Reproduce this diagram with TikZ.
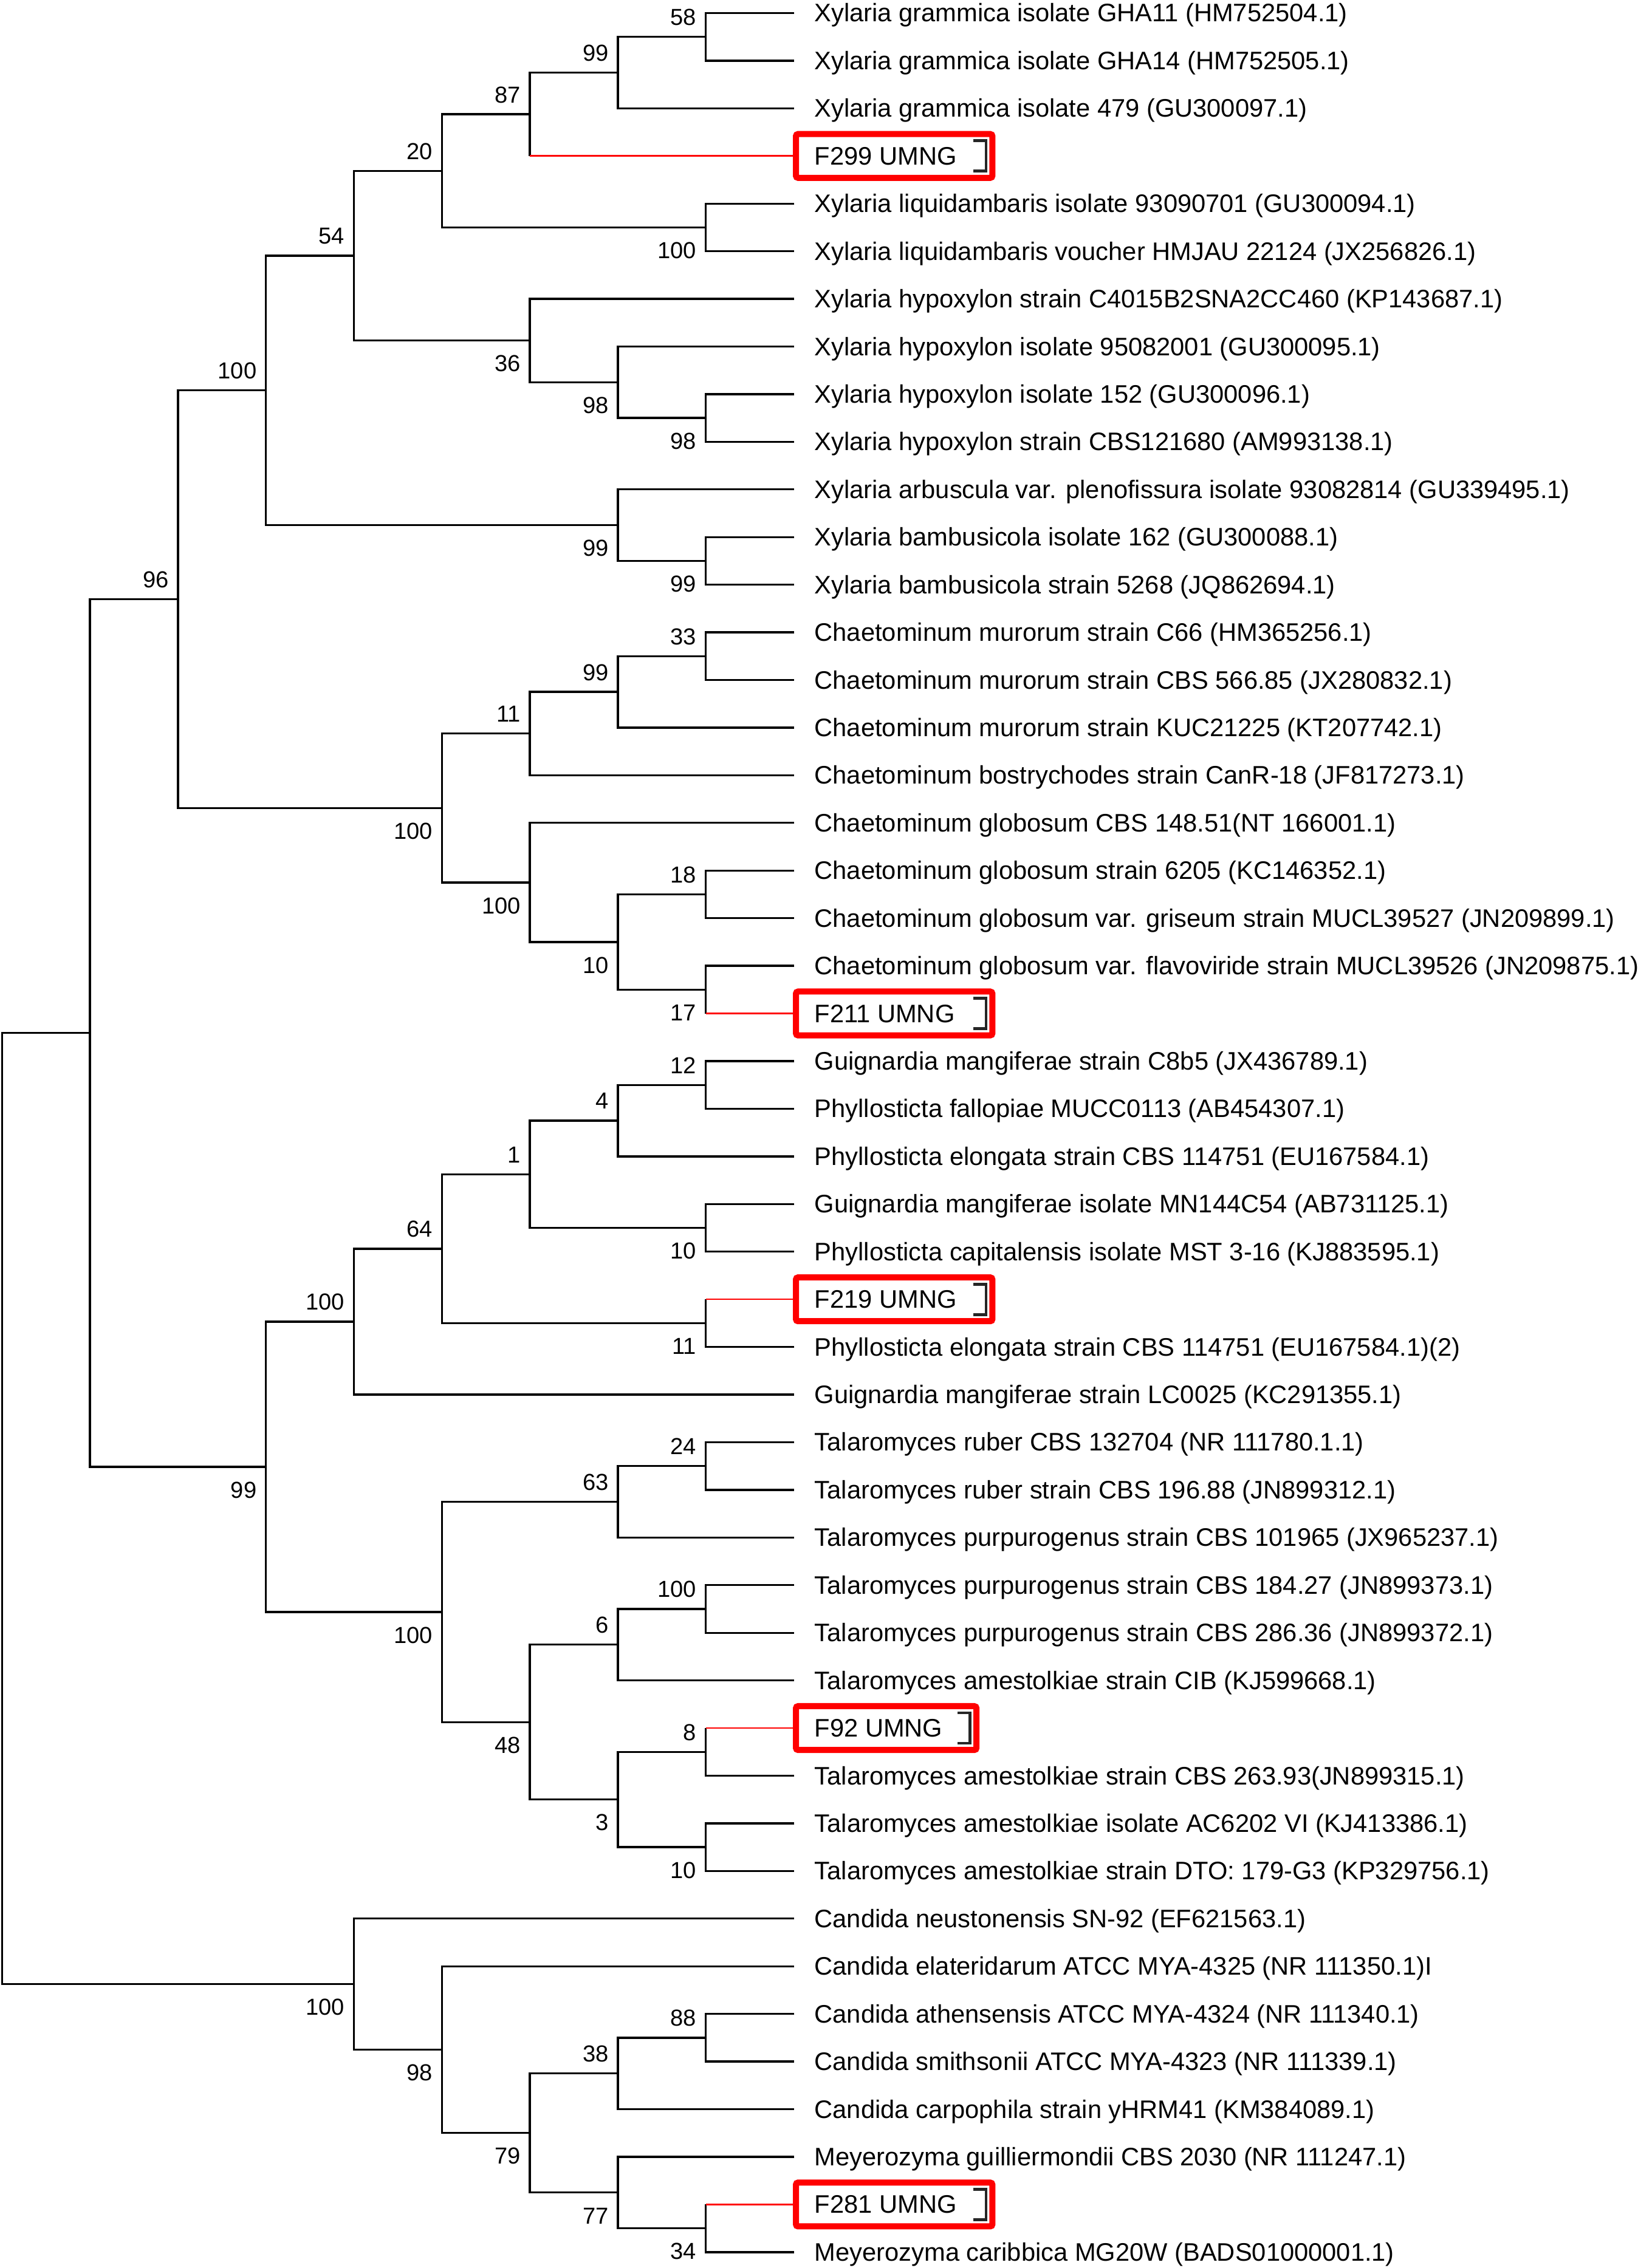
\documentclass[tikz,border=0pt]{standalone}
\usepackage{fontspec}
\setmainfont{Liberation Sans}
\tikzset{
  br/.style={line width=1.4pt, line join=miter, draw=black},
  rbr/.style={line width=1.1pt, draw=red},
  tiplab/.style={anchor=base west, inner sep=0pt, outer sep=0pt, font=\fontsize{17.5}{21}\selectfont},
  suplab/.style={anchor=base east, inner sep=0pt, outer sep=0pt, font=\fontsize{16}{19}\selectfont},
  rbox/.style={draw=red, line width=4.2pt, outer sep=0pt, inner sep=0pt, minimum height=30.3pt, rounded corners=1.5pt, anchor=west},
  brkt/.style={line width=2pt, draw=black!85},
}
\newcommand\IN[3]{\coordinate (#1) at ({1.4+60.8*#2},#3);}
\newcommand\TIP[2]{\coordinate (t#1) at (549,#1);
  \node[tiplab] (l#1) at ([xshift=14pt,yshift=-6.1pt]t#1) {#2};}
\newcommand\RTIP[3]{\node[rbox, minimum width=#3pt] (b#1) at (550.1,#1) {};
  \coordinate (t#1) at (b#1.west);
  \node[tiplab] (l#1) at ([xshift=12.9pt,yshift=-6.1pt]t#1) {#2};
  \draw[brkt] ([xshift=-13pt,yshift=10.5pt]b#1.east) -| ([xshift=-4.4pt,yshift=-10.5pt]b#1.east) -- ([xshift=-13pt,yshift=-10.5pt]b#1.east);}
\newcommand\BRK[3]{\draw[br] (#2) -| (#1) |- (#3);}
\newcommand\RBOT[3]{\draw[br] (#2) -| (#1) -- (#1|-#3); \draw[rbr] (#1|-#3) -- (#3);}
\newcommand\RTOP[3]{\draw[br] (#3) -| (#1) -- (#1|-#2); \draw[rbr] (#1|-#2) -- (#2);}
\newcommand\LA[2]{\node[suplab] (s#1) at ([xshift=-6.5pt,yshift=8pt]#1) {#2};}
\newcommand\LB[2]{\node[suplab] (s#1) at ([xshift=-6.5pt,yshift=-21.5pt]#1) {#2};}
\begin{document}
\begin{tikzpicture}[x=1pt, y=-32.936pt]
\useasboundingbox (0,0.7267) rectangle (1132,48.334);
% tips
\TIP{1}{Xylaria grammica isolate GHA11 (HM752504.1)}
\TIP{2}{Xylaria grammica isolate GHA14 (HM752505.1)}
\TIP{3}{Xylaria grammica isolate 479 (GU300097.1)}
\RTIP{4}{F299 UMNG}{135.8}
\TIP{5}{Xylaria liquidambaris isolate 93090701 (GU300094.1)}
\TIP{6}{Xylaria liquidambaris voucher HMJAU 22124 (JX256826.1)}
\TIP{7}{Xylaria hypoxylon strain C4015B2SNA2CC460 (KP143687.1)}
\TIP{8}{Xylaria hypoxylon isolate 95082001 (GU300095.1)}
\TIP{9}{Xylaria hypoxylon isolate 152 (GU300096.1)}
\TIP{10}{Xylaria hypoxylon strain CBS121680 (AM993138.1)}
\TIP{11}{Xylaria arbuscula var. plenofissura isolate 93082814 (GU339495.1)}
\TIP{12}{Xylaria bambusicola isolate 162 (GU300088.1)}
\TIP{13}{Xylaria bambusicola strain 5268 (JQ862694.1)}
\TIP{14}{Chaetominum murorum strain C66 (HM365256.1)}
\TIP{15}{Chaetominum murorum strain CBS 566.85 (JX280832.1)}
\TIP{16}{Chaetominum murorum strain KUC21225 (KT207742.1)}
\TIP{17}{Chaetominum bostrychodes strain CanR-18 (JF817273.1)}
\TIP{18}{Chaetominum globosum CBS 148.51(NT 166001.1)}
\TIP{19}{Chaetominum globosum strain 6205 (KC146352.1)}
\TIP{20}{Chaetominum globosum var. griseum strain MUCL39527 (JN209899.1)}
\TIP{21}{Chaetominum globosum var. flavoviride strain MUCL39526 (JN209875.1)}
\RTIP{22}{F211 UMNG}{135.8}
\TIP{23}{Guignardia mangiferae strain C8b5 (JX436789.1)}
\TIP{24}{Phyllosticta fallopiae MUCC0113 (AB454307.1)}
\TIP{25}{Phyllosticta elongata strain CBS 114751 (EU167584.1)}
\TIP{26}{Guignardia mangiferae isolate MN144C54 (AB731125.1)}
\TIP{27}{Phyllosticta capitalensis isolate MST 3-16 (KJ883595.1)}
\RTIP{28}{F219 UMNG}{135.8}
\TIP{29}{Phyllosticta elongata strain CBS 114751 (EU167584.1)(2)}
\TIP{30}{Guignardia mangiferae strain LC0025 (KC291355.1)}
\TIP{31}{Talaromyces ruber CBS 132704 (NR 111780.1.1)}
\TIP{32}{Talaromyces ruber strain CBS 196.88 (JN899312.1)}
\TIP{33}{Talaromyces purpurogenus strain CBS 101965 (JX965237.1)}
\TIP{34}{Talaromyces purpurogenus strain CBS 184.27 (JN899373.1)}
\TIP{35}{Talaromyces purpurogenus strain CBS 286.36 (JN899372.1)}
\TIP{36}{Talaromyces amestolkiae strain CIB (KJ599668.1)}
\RTIP{37}{F92 UMNG}{124.8}
\TIP{38}{Talaromyces amestolkiae strain CBS 263.93(JN899315.1)}
\TIP{39}{Talaromyces amestolkiae isolate AC6202 VI (KJ413386.1)}
\TIP{40}{Talaromyces amestolkiae strain DTO: 179-G3 (KP329756.1)}
\TIP{41}{Candida neustonensis SN-92 (EF621563.1)}
\TIP{42}{Candida elateridarum ATCC MYA-4325 (NR 111350.1)I}
\TIP{43}{Candida athensensis ATCC MYA-4324 (NR 111340.1)}
\TIP{44}{Candida smithsonii ATCC MYA-4323 (NR 111339.1)}
\TIP{45}{Candida carpophila strain yHRM41 (KM384089.1)}
\TIP{46}{Meyerozyma guilliermondii CBS 2030 (NR 111247.1)}
\RTIP{47}{F281 UMNG}{135.8}
\TIP{48}{Meyerozyma caribbica MG20W (BADS01000001.1)}
% internal nodes
\IN{H}{8}{1.5}
\IN{G}{7}{2.25}
\IN{F}{6}{3.125}
\IN{I}{8}{5.5}
\IN{E}{5}{4.3125}
\IN{L}{8}{9.5}
\IN{K}{7}{8.75}
\IN{J}{6}{7.875}
\IN{D}{4}{6.09375}
\IN{N}{8}{12.5}
\IN{M}{7}{11.75}
\IN{C}{3}{8.921875}
\IN{S}{8}{14.5}
\IN{Q}{7}{15.25}
\IN{P}{6}{16.125}
\IN{V}{8}{19.5}
\IN{W}{8}{21.5}
\IN{U}{7}{20.5}
\IN{T}{6}{19.25}
\IN{O}{5}{17.6875}
\IN{B}{2}{13.3046875}
\IN{AC}{8}{23.5}
\IN{AB}{7}{24.25}
\IN{AD}{8}{26.5}
\IN{AA}{6}{25.375}
\IN{AE}{8}{28.5}
\IN{Z}{5}{26.9375}
\IN{Y}{4}{28.46875}
\IN{AH}{8}{31.5}
\IN{AG}{7}{32.25}
\IN{AK}{8}{34.5}
\IN{AJ}{7}{35.25}
\IN{AM}{8}{37.5}
\IN{AN}{8}{39.5}
\IN{AL}{7}{38.5}
\IN{AI}{6}{36.875}
\IN{AF}{5}{34.5625}
\IN{X}{3}{31.515625}
\IN{A}{1}{22.41015625}
\IN{BE}{8}{43.5}
\IN{BD}{7}{44.25}
\IN{BG}{8}{47.5}
\IN{BF}{7}{46.75}
\IN{BC}{6}{45.5}
\IN{BB}{5}{43.75}
\IN{BA}{4}{42.375}
\IN{R}{0}{32.392578}
% branches
\BRK{H}{t1}{t2}
\BRK{G}{H}{t3}
\RBOT{F}{G}{t4}
\BRK{I}{t5}{t6}
\BRK{E}{F}{I}
\BRK{L}{t9}{t10}
\BRK{K}{t8}{L}
\BRK{J}{t7}{K}
\BRK{D}{E}{J}
\BRK{N}{t12}{t13}
\BRK{M}{t11}{N}
\BRK{C}{D}{M}
\BRK{S}{t14}{t15}
\BRK{Q}{S}{t16}
\BRK{P}{Q}{t17}
\BRK{V}{t19}{t20}
\RBOT{W}{t21}{t22}
\BRK{U}{V}{W}
\BRK{T}{t18}{U}
\BRK{O}{P}{T}
\BRK{B}{C}{O}
\BRK{AC}{t23}{t24}
\BRK{AB}{AC}{t25}
\BRK{AD}{t26}{t27}
\BRK{AA}{AB}{AD}
\RTOP{AE}{t28}{t29}
\BRK{Z}{AA}{AE}
\BRK{Y}{Z}{t30}
\BRK{AH}{t31}{t32}
\BRK{AG}{AH}{t33}
\BRK{AK}{t34}{t35}
\BRK{AJ}{AK}{t36}
\RTOP{AM}{t37}{t38}
\BRK{AN}{t39}{t40}
\BRK{AL}{AM}{AN}
\BRK{AI}{AJ}{AL}
\BRK{AF}{AG}{AI}
\BRK{X}{Y}{AF}
\BRK{A}{B}{X}
\BRK{BE}{t43}{t44}
\BRK{BD}{BE}{t45}
\RTOP{BG}{t47}{t48}
\BRK{BF}{t46}{BG}
\BRK{BC}{BD}{BF}
\BRK{BB}{t42}{BC}
\BRK{BA}{t41}{BB}
\BRK{R}{A}{BA}
% support values
\LA{B}{96} \LB{X}{99} \LA{C}{100} \LB{O}{100} \LA{D}{54} \LB{M}{99}
\LA{E}{20} \LB{J}{36} \LA{F}{87} \LB{I}{100} \LA{G}{99} \LA{H}{58}
\LB{K}{98} \LB{L}{98} \LB{N}{99} \LA{P}{11} \LB{T}{100} \LA{Q}{99}
\LA{S}{33} \LA{V}{18} \LB{U}{10} \LB{W}{17} \LA{Y}{100} \LB{AF}{100}
\LA{Z}{64} \LA{AA}{1} \LA{AB}{4} \LA{AC}{12} \LB{AD}{10} \LB{AE}{11}
\LA{AG}{63} \LA{AH}{24} \LB{AI}{48} \LA{AJ}{6} \LA{AK}{100} \LB{AL}{3}
\LA{AM}{8} \LB{AN}{10} \LB{BA}{100} \LB{BB}{98} \LB{BC}{79} \LA{BD}{38}
\LA{BE}{88} \LB{BF}{77} \LB{BG}{34}
\end{tikzpicture}
\end{document}
